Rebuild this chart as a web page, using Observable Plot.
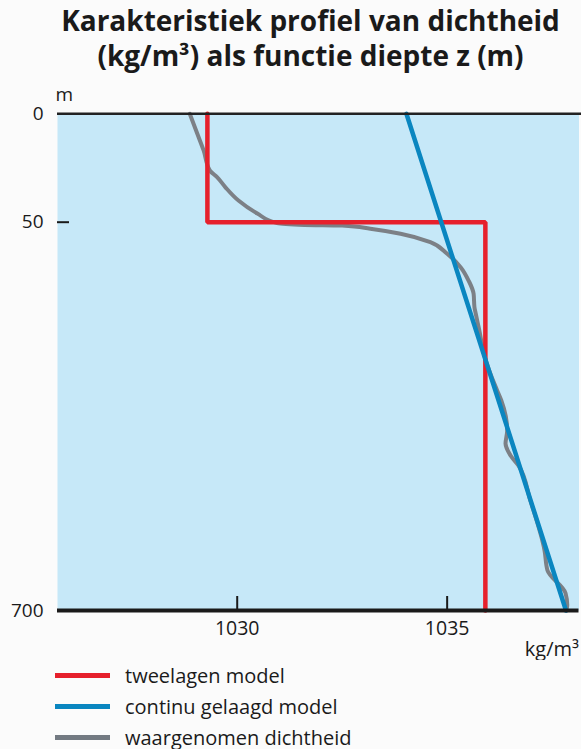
<!DOCTYPE html>
<html><head><meta charset="utf-8">
<script src="https://cdn.jsdelivr.net/npm/d3@7"></script>
<script src="https://cdn.jsdelivr.net/npm/@observablehq/plot@0.6"></script>
<style>
html,body{margin:0;padding:0;background:#fbfbfb;}
body{width:581px;font-family:"Open Sans",sans-serif;color:#1a1a1a;}
#title{height:80px;box-sizing:border-box;padding-top:3px;padding-left:40px;text-align:center;font-weight:700;font-size:28px;line-height:35px;}
#chart svg{display:block;}
#legend{padding-top:0px;}
.row{display:flex;align-items:center;height:31px;font-size:20px;line-height:18px;}
.sw{width:55px;height:5px;margin-left:55px;margin-right:15px;}
</style></head><body>
<div id="title">Karakteristiek profiel van dichtheid<br>(kg/m³) als functie diepte z (m)</div>
<div id="chart"></div>
<div id="legend"></div>
<script>
const seriesNames = ["tweelagen model", "continu gelaagd model", "waargenomen dichtheid"];
const seriesColors = ["#e6202c", "#0a86c0", "#7c8086"];
const legendColors = ["#e6202c", "#0a86c0", "#737a82"];

const twoLayerDepth = [0, 50, 50, 700];
const twoLayerDensity = [1029.29, 1029.29, 1035.91, 1035.91];

const continuousDepth = [0, 50, 700];
const continuousDensity = [1034.03, 1034.86, 1037.83];

const observedDepth = [0, 9.2, 16.9, 26.2, 29.2, 33.9, 40, 46, 51.5, 54.5, 55.5, 61, 69.4, 83.5, 102.9, 125.3, 147.6, 169.9, 192.3, 202.8, 225.8, 281.5, 331.7, 348.5, 398.7, 420.5, 440.5, 457.4, 515.9, 599.6, 633, 671, 691, 700];
const observedDensity = [1028.87, 1029.05, 1029.20, 1029.35, 1029.52, 1029.72, 1030.03, 1030.48, 1030.95, 1031.6, 1032.5, 1033.17, 1033.89, 1034.60, 1035.00, 1035.32, 1035.51, 1035.63, 1035.65, 1035.68, 1035.75, 1035.92, 1036.19, 1036.29, 1036.43, 1036.39, 1036.51, 1036.70, 1036.98, 1037.32, 1037.39, 1037.82, 1037.86, 1037.84];

const xTicks = [1030, 1035];
const yTicks = [0, 50, 700];
const xDomain = [1025.72, 1038.14];
const yDomain = [0, 50, 700];
const xUnit = "kg/m³";
const yUnit = "m";

const toRows = (depth, dens) => depth.map((d, i) => ({depth: d, density: dens[i]}));
const twoLayer = toRows(twoLayerDepth, twoLayerDensity);
const continuous = toRows(continuousDepth, continuousDensity);
const observed = toRows(observedDepth, observedDensity);

const W = 581, H = 580, mt = 33.3, mb = 50, ml = 57, mr = 2.5;

const chart = Plot.plot({
  width: W, height: H,
  marginLeft: ml, marginRight: mr, marginTop: mt, marginBottom: mb,
  style: {fontFamily: "Open Sans, sans-serif", fontSize: "19px", color: "#1a1a1a", background: "transparent"},
  x: {type: "linear", domain: xDomain},
  y: {type: "linear", domain: yDomain, range: [mt, 141.7, H - mb]},
  marks: [
    Plot.frame({fill: "#c6e8f8", stroke: null}),
    Plot.line(observed, {x: "density", y: "depth", stroke: seriesColors[2], strokeWidth: 4, curve: "monotone-y"}),
    Plot.line(twoLayer, {x: "density", y: "depth", stroke: seriesColors[0], strokeWidth: 4.5, strokeLinejoin: "miter"}),
    Plot.line(continuous, {x: "density", y: "depth", stroke: seriesColors[1], strokeWidth: 4.5}),
    Plot.ruleY([yTicks[0]], {stroke: "#222", strokeWidth: 2.5, insetRight: -mr}),
    Plot.ruleY([yTicks[2]], {stroke: "#1a1a1a", strokeWidth: 4}),
    Plot.ruleY([yTicks[1]], {stroke: "#1a1a1a", strokeWidth: 2, insetRight: W - ml - mr - 12}),
    Plot.ruleX(xTicks, {stroke: "#1a1a1a", strokeWidth: 2, insetTop: (H - mb - mt) - 14}),
    Plot.axisY(yTicks, {tickSize: 0, tickPadding: 14, fontSize: 19, label: null, tickFormat: d => String(d)}),
    Plot.axisX(xTicks, {tickSize: 0, tickPadding: 11, fontSize: 19.5, label: null, tickFormat: d => String(d)}),
    Plot.text([yUnit], {text: d => d, frameAnchor: "top-left", textAnchor: "start", lineAnchor: "bottom", dx: -2, dy: -13, fontSize: 19}),
    Plot.text([xUnit], {text: d => d, frameAnchor: "bottom-right", textAnchor: "end", lineAnchor: "bottom", dy: 45, fontSize: 20})
  ]
});
document.getElementById("chart").appendChild(chart);

const legend = document.getElementById("legend");
seriesNames.forEach((name, i) => {
  const row = document.createElement("div");
  row.className = "row";
  const sw = document.createElement("span");
  sw.className = "sw";
  sw.style.background = legendColors[i];
  const lab = document.createElement("span");
  lab.textContent = name;
  row.appendChild(sw); row.appendChild(lab);
  legend.appendChild(row);
});
</script>
</body></html>
